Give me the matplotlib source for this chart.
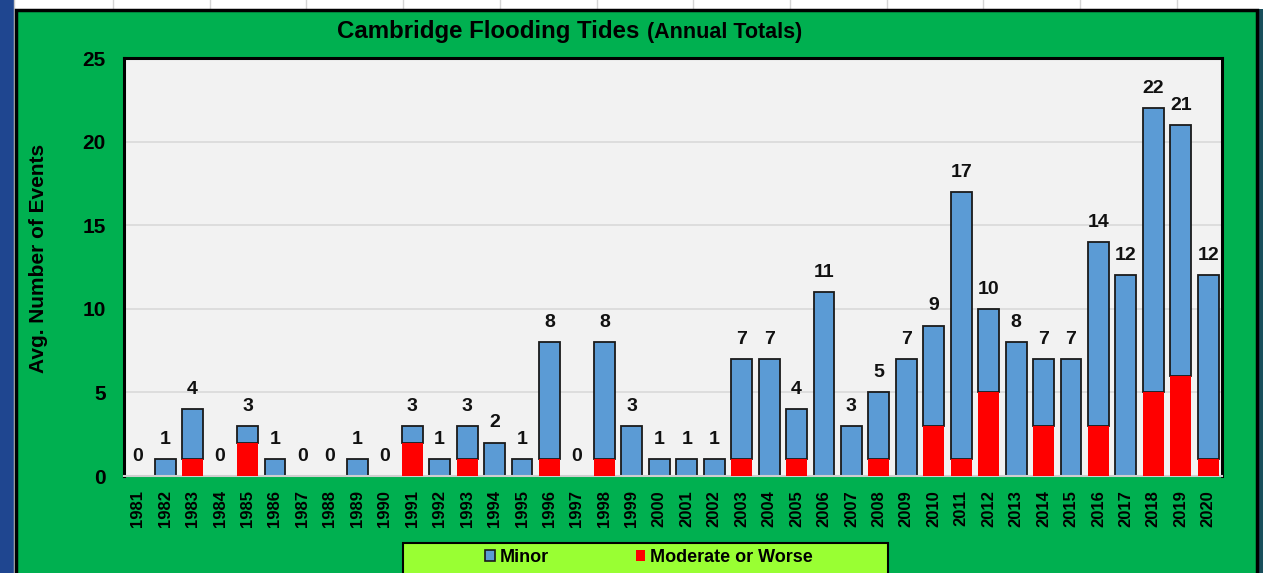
import matplotlib
matplotlib.use("Agg")
import matplotlib.pyplot as plt
from matplotlib.patches import Rectangle, Patch
from matplotlib.lines import Line2D
import numpy as np

plt.rcParams['font.family'] = ['Liberation Sans', 'DejaVu Sans']
plt.rcParams['font.weight'] = 'bold'

years = ['1981', '1982', '1983', '1984', '1985', '1986', '1987', '1988', '1989', '1990',
         '1991', '1992', '1993', '1994', '1995', '1996', '1997', '1998', '1999', '2000',
         '2001', '2002', '2003', '2004', '2005', '2006', '2007', '2008', '2009', '2010',
         '2011', '2012', '2013', '2014', '2015', '2016', '2017', '2018', '2019', '2020']
totals = [0, 1, 4, 0, 3, 1, 0, 0, 1, 0,
          3, 1, 3, 2, 1, 8, 0, 8, 3, 1,
          1, 1, 7, 7, 4, 11, 3, 5, 7, 9,
          17, 10, 8, 7, 7, 14, 12, 22, 21, 12]
moderate = [0, 0, 1, 0, 2, 0, 0, 0, 0, 0,
            2, 0, 1, 0, 0, 1, 0, 1, 0, 0,
            0, 0, 1, 0, 1, 0, 0, 1, 0, 3,
            1, 5, 0, 3, 0, 3, 0, 5, 6, 1]
minor = [t - m for t, m in zip(totals, moderate)]
yticks = [0, 5, 10, 15, 20, 25]

W, H = 1263, 573
GREEN = '#00b050'
BLUE = '#5b9bd5'
RED = '#ff0000'
PLOTBG = '#f2f2f2'
LIME = '#99ff33'

fig = plt.figure(figsize=(W / 100, H / 100), dpi=100, facecolor='#1f4690')


def fx(x):
    return x / W


def fy(y):
    return 1 - y / H


def rect(x0, y0, x1, y1, **kw):
    r = Rectangle((fx(x0), fy(y1)), fx(x1) - fx(x0), fy(y0) - fy(y1),
                  transform=fig.transFigure, **kw)
    fig.patches.append(r)
    return r


# background decorations
rect(1258, 0, 1263, 573, facecolor='#184f5c', edgecolor='none', zorder=0)
rect(14, 0, 1263, 9, facecolor='white', edgecolor='none', zorder=0)
for gx in np.arange(113, 1263, 96.7):
    fig.lines.append(Line2D([fx(gx), fx(gx)], [fy(0), fy(9)], transform=fig.transFigure,
                            color='#d4d4d4', lw=1, zorder=0.5))
fig.lines.append(Line2D([fx(14), fx(14)], [fy(0), fy(573)], transform=fig.transFigure,
                        color='#c8c8c8', lw=1, zorder=0.5))
rect(16, 10, 1257, 580, facecolor=GREEN, edgecolor='black', linewidth=2.5, zorder=1)

# plot area
ax = fig.add_axes([fx(124), fy(476), fx(1222) - fx(124), fy(58) - fy(476)])
ax.set_facecolor(PLOTBG)
ax.set_zorder(2)

x = np.arange(len(years))
bw = 0.76
ax.bar(x, minor, bottom=moderate, width=bw, color=BLUE, edgecolor='#1a1a1a',
       linewidth=1.3, zorder=2)
ax.bar(x, moderate, width=bw, color=RED, edgecolor='none', zorder=3)

for xi, t in zip(x, totals):
    ax.annotate(str(t), (xi, t), xytext=(0, 8), textcoords='offset points',
                ha='center', va='bottom', fontsize=14, fontweight='bold', color='#111111')

ax.set_xlim(-0.5, len(years) - 0.5)
ax.set_ylim(0, 25)
ax.set_yticks(yticks)
ax.set_yticklabels([str(v) for v in yticks], fontsize=15, fontweight='bold')
ax.set_xticks(x)
ax.set_xticklabels(years, rotation=90, fontsize=12, fontweight='bold')
ax.tick_params(axis='y', length=0, pad=13)
ax.tick_params(axis='x', length=0, pad=10)
ax.grid(axis='y', color='#d9d9d9', linewidth=1.2, zorder=0)
ax.set_axisbelow(True)

for s in ['left', 'top', 'right']:
    ax.spines[s].set_color('black')
    ax.spines[s].set_linewidth(2.2)
ax.spines['bottom'].set_color('#cfcfcf')
ax.spines['bottom'].set_linewidth(1.5)

ax.set_ylabel('Avg. Number of Events', fontsize=15, fontweight='bold')
ax.yaxis.set_label_coords((48 - 124) / (1222 - 124), (476 - 258) / (476 - 58))

# title
renderer = fig.canvas.get_renderer()
t1 = fig.text(fx(337), fy(29), 'Cambridge Flooding Tides', fontsize=17.3, fontweight='bold',
              ha='left', va='center_baseline', zorder=5)
bb = t1.get_window_extent(renderer=renderer)
fig.text(bb.x1 / fig.dpi / fig.get_figwidth() + fx(8), fy(30), '(Annual Totals)', fontsize=15.5,
         fontweight='bold', ha='left', va='center_baseline', zorder=5)

# legend
rect(403, 543, 888, 585, facecolor=LIME, edgecolor='black', linewidth=1.5, zorder=3)
handles = [Patch(facecolor=BLUE, edgecolor='#1a1a1a', linewidth=1.2, label='Minor'),
           Patch(facecolor=RED, edgecolor='none', label='Moderate or Worse')]
leg = fig.legend(handles=handles, loc='center', bbox_to_anchor=(fx(649), fy(557)), ncol=2,
                 frameon=False, handlelength=0.55, handleheight=0.55,
                 handletextpad=0.25, columnspacing=4.8, borderpad=0,
                 prop={'weight': 'bold', 'size': 13})
leg.set_zorder(6)

fig.savefig('out.png', dpi=100, facecolor=fig.get_facecolor())
